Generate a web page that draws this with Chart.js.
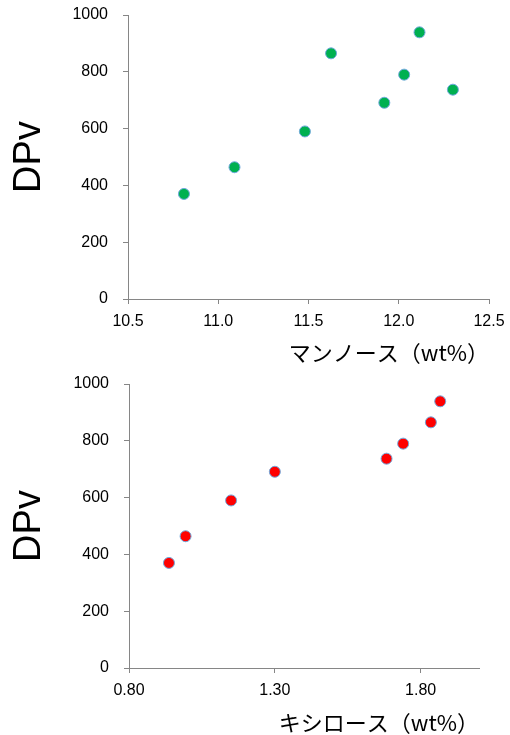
<!DOCTYPE html>
<html>
<head>
<meta charset="utf-8">
<script src="https://cdn.jsdelivr.net/npm/chart.js@4.4.1/dist/chart.umd.min.js"></script>
<style>
  html, body { margin: 0; padding: 0; background: #fff; }
  canvas { display: block; }
</style>
</head>
<body>
<canvas id="mannoseChart" width="510" height="370"></canvas>
<canvas id="xyloseChart" width="510" height="365"></canvas>
<script>
// DPv values shared by both plots
const dpv = [370, 464, 590, 865, 691, 790, 939, 737];
const mannose = [10.81, 11.09, 11.48, 11.625, 11.92, 12.03, 12.115, 12.30];
const xylose = [0.937, 0.994, 1.15, 1.835, 1.30, 1.74, 1.867, 1.683];

const mannoseTicks = [10.5, 11.0, 11.5, 12.0, 12.5];
const xyloseTicks = [0.80, 1.30, 1.80];
const dpvTicks = [0, 200, 400, 600, 800, 1000];

const axisColor = "#868686";

function makeScatter(canvasId, xs, color, xTicks, xMin, xMax, decimals, xTitle, pad, yWidth, xHeight) {
    const ctx = document.getElementById(canvasId).getContext("2d");
    return new Chart(ctx, {
        type: "scatter",
        data: {
            datasets: [
                {
                    data: xs.map((x, i) => ({ x: x, y: dpv[i] })),
                    backgroundColor: color,
                    borderColor: "#6fa8dc",
                    borderWidth: 1,
                    pointRadius: 5.5,
                },
            ],
        },
        options: {
            responsive: false,
            animation: false,
            layout: { padding: { left: pad.left, top: pad.top, right: pad.right, bottom: 0 } },
            plugins: { legend: { display: false }, tooltip: { enabled: false } },
            scales: {
                x: {
                    type: "linear",
                    min: xMin,
                    max: xMax,
                    afterBuildTicks: (scale) => { scale.ticks = xTicks.map((v) => ({ value: v })); },
                    afterFit: (scale) => {
                        scale.height = xHeight;
                        scale.paddingLeft = 0;
                        scale.paddingRight = 0;
                    },
                    border: { color: axisColor, width: 1 },
                    grid: { drawOnChartArea: false, drawTicks: true, tickLength: 5, color: axisColor },
                    ticks: {
                        color: "#000",
                        padding: 8,
                        maxRotation: 0,
                        font: { family: "'Liberation Sans', Arial, sans-serif", size: 16 },
                        callback: (v) => Number(v).toFixed(decimals),
                    },
                    title: {
                        display: true,
                        text: xTitle,
                        align: "end",
                        color: "#000",
                        padding: { top: 0, bottom: pad.titleBottom },
                        font: { family: "'Noto Sans CJK JP', sans-serif", size: 22, lineHeight: 1.0 },
                    },
                },
                y: {
                    min: 0,
                    max: 1000,
                    afterBuildTicks: (scale) => { scale.ticks = dpvTicks.map((v) => ({ value: v })); },
                    afterFit: (scale) => {
                        scale.width = yWidth;
                        scale.paddingTop = 0;
                        scale.paddingBottom = 0;
                    },
                    border: { color: axisColor, width: 1 },
                    grid: { drawOnChartArea: false, drawTicks: true, tickLength: 5, color: axisColor },
                    ticks: {
                        color: "#000",
                        padding: 15,
                        font: { family: "'Liberation Sans', Arial, sans-serif", size: 16 },
                        callback: (v) => String(v),
                    },
                    title: {
                        display: true,
                        text: "DPv",
                        color: "#000",
                        padding: { top: 7, bottom: 0 },
                        font: { family: "'Liberation Sans', Arial, sans-serif", size: 38, lineHeight: 1.2 },
                    },
                },
            },
        },
    });
}

makeScatter("mannoseChart", mannose, "#00b050", mannoseTicks, 10.5, 12.5, 1,
    "マンノース（wt%）", { left: 0, top: 15, right: 21, titleBottom: 6 }, 128, 71);

makeScatter("xyloseChart", xylose, "#ff0000", xyloseTicks, 0.8, 2.0, 2,
    "キシロース（wt%）", { left: 0, top: 14, right: 31, titleBottom: 1.5 }, 129, 67);
</script>
</body>
</html>
